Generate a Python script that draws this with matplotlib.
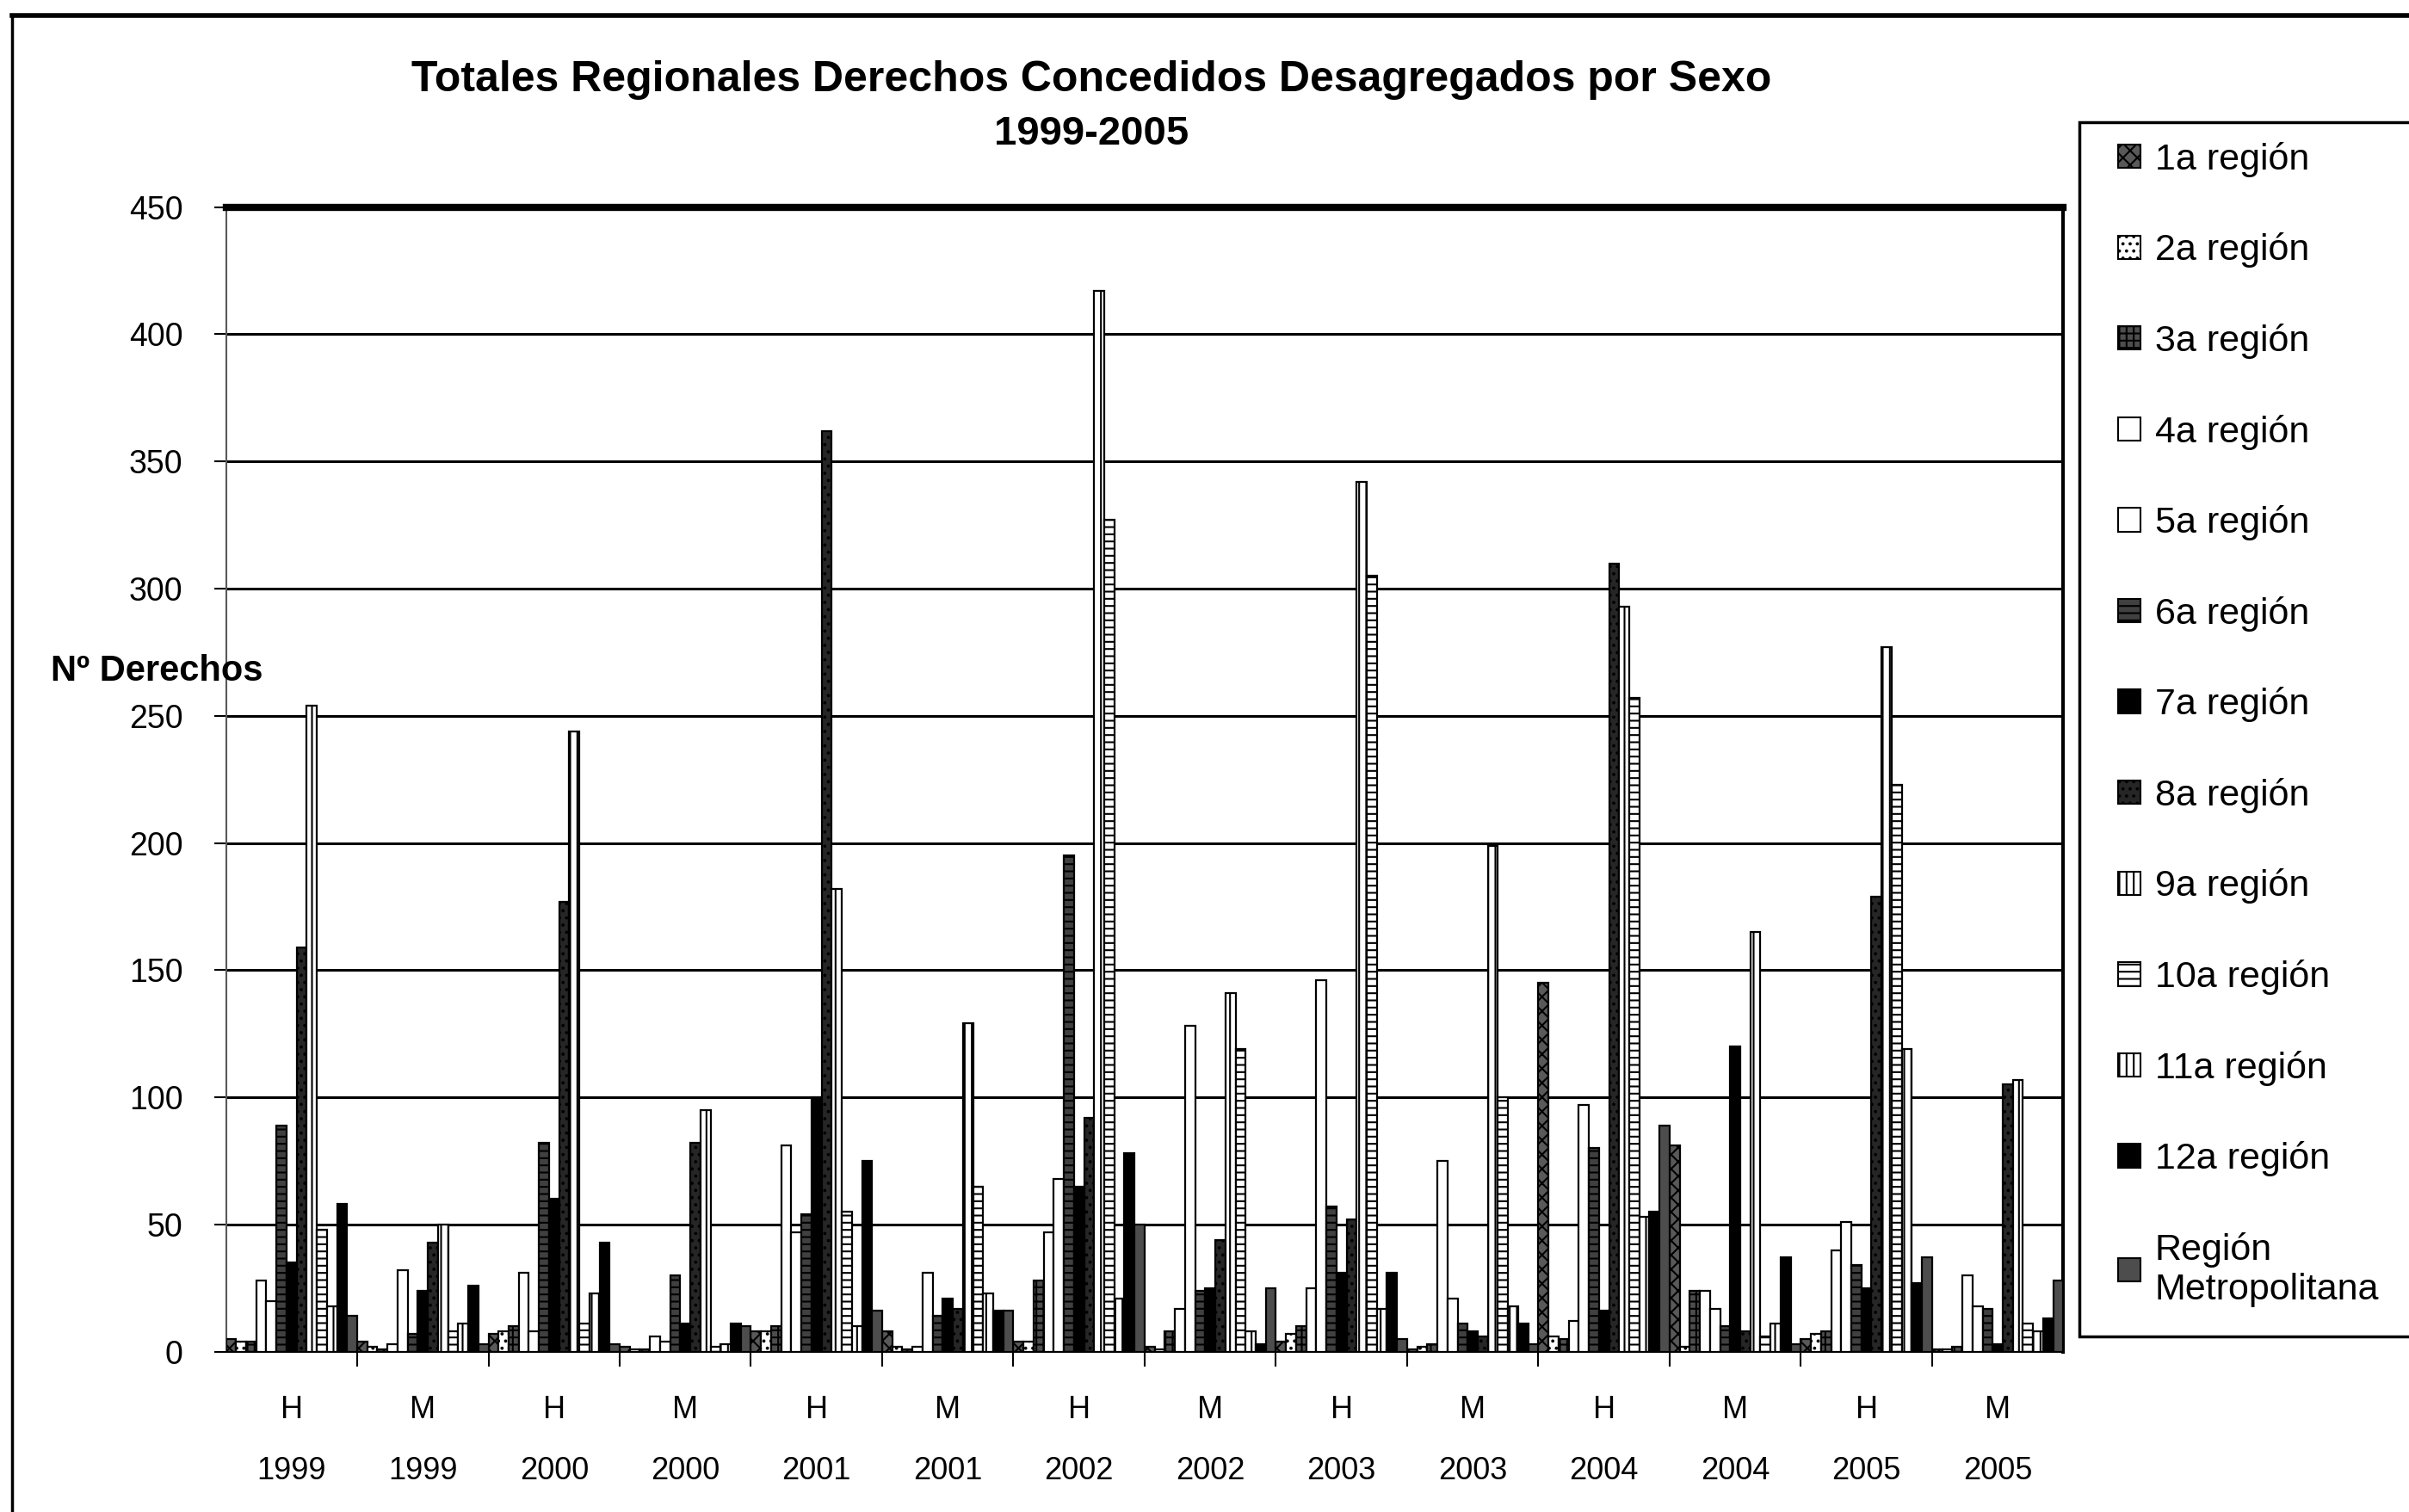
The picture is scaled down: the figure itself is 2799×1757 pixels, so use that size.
import matplotlib.pyplot as plt
from matplotlib.patches import Patch, Rectangle
from matplotlib.lines import Line2D
import numpy as np

plt.rcParams['font.family'] = ['Liberation Sans', 'DejaVu Sans']
plt.rcParams['hatch.linewidth'] = 1.5

# grupos (sexo / año)
sexo = ['H', 'M'] * 7
anios = ['1999', '1999', '2000', '2000', '2001', '2001', '2002', '2002',
         '2003', '2003', '2004', '2004', '2005', '2005']

regiones = ['1a región', '2a región', '3a región', '4a región', '5a región',
            '6a región', '7a región', '8a región', '9a región', '10a región',
            '11a región', '12a región', 'Región\nMetropolitana']

# valores, un vector por grupo (13 regiones cada uno)
h_1999 = [5, 4, 4, 28, 20, 89, 35, 159, 254, 48, 18, 58, 14]
m_1999 = [4, 2, 1, 3, 32, 7, 24, 43, 50, 8, 11, 26, 3]
h_2000 = [7, 8, 10, 31, 8, 82, 60, 177, 244, 11, 23, 43, 3]
m_2000 = [2, 1, 1, 6, 4, 30, 11, 82, 95, 2, 3, 11, 10]
h_2001 = [8, 8, 10, 81, 47, 54, 100, 362, 182, 55, 10, 75, 16]
m_2001 = [8, 2, 1, 2, 31, 14, 21, 17, 129, 65, 23, 16, 16]
h_2002 = [4, 4, 28, 47, 68, 195, 65, 92, 417, 327, 21, 78, 50]
m_2002 = [2, 1, 8, 17, 128, 24, 25, 44, 141, 119, 8, 3, 25]
h_2003 = [4, 7, 10, 25, 146, 57, 31, 52, 342, 305, 17, 31, 5]
m_2003 = [1, 2, 3, 75, 21, 11, 8, 6, 199, 100, 18, 11, 3]
h_2004 = [145, 6, 5, 12, 97, 80, 16, 310, 293, 257, 53, 55, 89]
m_2004 = [81, 2, 24, 24, 17, 10, 120, 8, 165, 6, 11, 37, 3]
h_2005 = [5, 7, 8, 40, 51, 34, 25, 179, 277, 223, 119, 27, 37]
m_2005 = [1, 1, 2, 30, 18, 17, 3, 105, 107, 11, 8, 13, 28]

grupos = [h_1999, m_1999, h_2000, m_2000, h_2001, m_2001, h_2002,
          m_2002, h_2003, m_2003, h_2004, m_2004, h_2005, m_2005]

# relleno en blanco y negro (escaneado)
rellenos = ['0.35', 'white', '0.3', 'white', 'white', '0.25', 'black',
            '0.15', 'white', 'white', 'white', 'black', '0.3']
tramas = ['xx', '..', '++', '', '', '--', '', '..', '||', '--', '||', '', '==']

valores = np.array(grupos).T  # filas = regiones
n_grp = len(grupos)
n_reg = len(regiones)
ancho = 1.0 / n_reg
x = np.arange(n_grp)

fig = plt.figure(figsize=(27.99, 17.57), dpi=100)
ax = fig.add_axes([0.0938, 0.106, 0.7627, 0.757])

for r in range(n_reg):
    pos = x - 0.5 + ancho * (r + 0.5)
    ax.bar(pos, valores[r], width=ancho, color=rellenos[r], hatch=tramas[r],
           edgecolor='black', linewidth=1.6, zorder=3)

ax.set_ylim(0, 450)
ax.set_xlim(-0.5, n_grp - 0.5)
ax.set_yticks(range(0, 451, 50))
ax.yaxis.grid(True, color='black', linewidth=2.2, zorder=1)
ax.tick_params(axis='y', labelsize=27, length=10, width=1.5, pad=26)

ax.set_xticks(x)
ax.set_xticklabels([s + '\n' + a for s, a in zip(sexo, anios)],
                   fontsize=26, linespacing=2.35)
ax.tick_params(axis='x', which='major', length=0, pad=36)
ax.set_xticks(np.arange(0.5, n_grp - 0.5, 1), minor=True)
ax.tick_params(axis='x', which='minor', length=12, width=1.5, direction='out')

ax.spines['top'].set_linewidth(6)
ax.spines['left'].set_linewidth(1.5)
ax.spines['left'].set_color('0.35')
ax.spines['right'].set_linewidth(3)
ax.spines['bottom'].set_linewidth(1.5)

# titulo y etiqueta del eje y
fig.text(0.453, 0.947, 'Totales Regionales Derechos Concedidos Desagregados por Sexo',
         ha='center', va='center', fontsize=36, fontweight='bold')
fig.text(0.453, 0.911, '1999-2005', ha='center', va='center',
         fontsize=34, fontweight='bold')
fig.text(0.021, 0.556, 'Nº Derechos', ha='left', va='center',
         fontsize=30, fontweight='bold')

# marco exterior del grafico
fig.add_artist(Line2D([0.005, 1.0], [0.99, 0.99], transform=fig.transFigure,
                      color='black', linewidth=4))
fig.add_artist(Line2D([0.005, 0.005], [0.0, 0.99], transform=fig.transFigure,
                      color='black', linewidth=2.5))

# leyenda
fig.add_artist(Rectangle((0.863, 0.116), 0.2, 0.803, transform=fig.transFigure,
                         facecolor='white', edgecolor='black', linewidth=2.5))
handles = [Patch(facecolor=rellenos[r], hatch=tramas[r], edgecolor='black',
                 linewidth=1.5) for r in range(n_reg)]
fig.legend(handles, regiones, loc='upper left', bbox_to_anchor=(0.873, 0.916),
           frameon=False, fontsize=31, handlelength=0.6, handleheight=0.6,
           handletextpad=0.4, labelspacing=1.5, borderaxespad=0)

fig.savefig('out.png', dpi=100)
